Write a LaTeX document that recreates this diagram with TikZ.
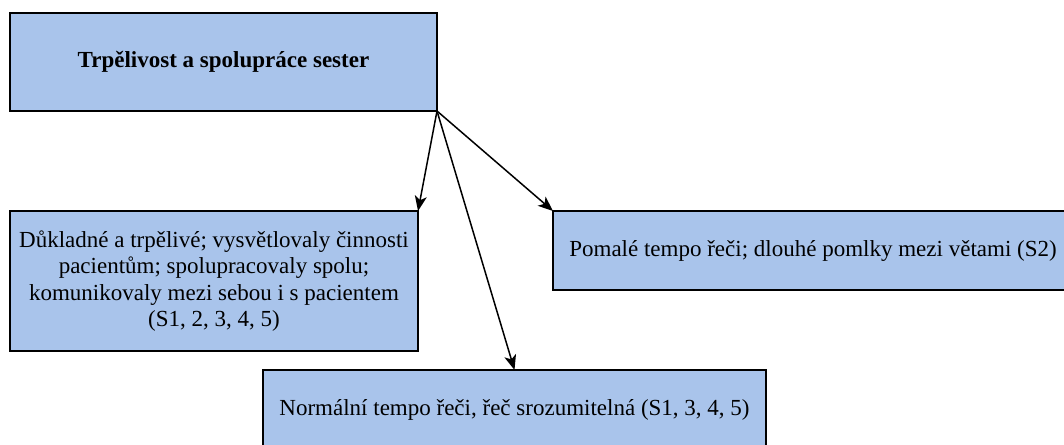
\documentclass[tikz,border=0pt]{standalone}
\usepackage{fontspec}
\setmainfont{Liberation Serif}
\usetikzlibrary{arrows.meta}
\definecolor{boxblue}{HTML}{A9C4EB}
\begin{document}
\begin{tikzpicture}[x=1pt,y=-1pt,
  box/.style={draw=black, fill=boxblue, line width=1.5pt, rectangle, inner sep=0pt, outer sep=0pt,
    align=center, font=\fontsize{23}{26.5}\selectfont},
  conn/.style={draw=black, line width=1.5pt, -{Stealth[length=15pt,width=12pt,inset=4pt]}}]
\useasboundingbox (0,0) rectangle (1064,444);
\clip (0,0) rectangle (1064,444);
\node[box, minimum width=427pt, minimum height=98pt] (top) at (223.5,62) {\textbf{Trpělivost a spolupráce sester}};
\node[box, minimum width=408pt, minimum height=140pt] (left) at (214,281)
  {Důkladné a trpělivé; vysvětlovaly činnosti\\pacientům; spolupracovaly spolu;\\komunikovaly mezi sebou i s pacientem\\(S1, 2, 3, 4, 5)};
\node[box, minimum width=520pt, minimum height=79pt] (right) at (813,250.5)
  {Pomalé tempo řeči; dlouhé pomlky mezi větami (S2)};
\node[box, minimum width=503pt, minimum height=80pt] (bot) at (514.5,410)
  {Normální tempo řeči, řeč srozumitelná (S1, 3, 4, 5)};
\draw[conn] (top.south east) -- (left.north east);
\draw[conn] (top.south east) -- (bot.north);
\draw[conn] (top.south east) -- (right.north west);
\end{tikzpicture}
\end{document}
